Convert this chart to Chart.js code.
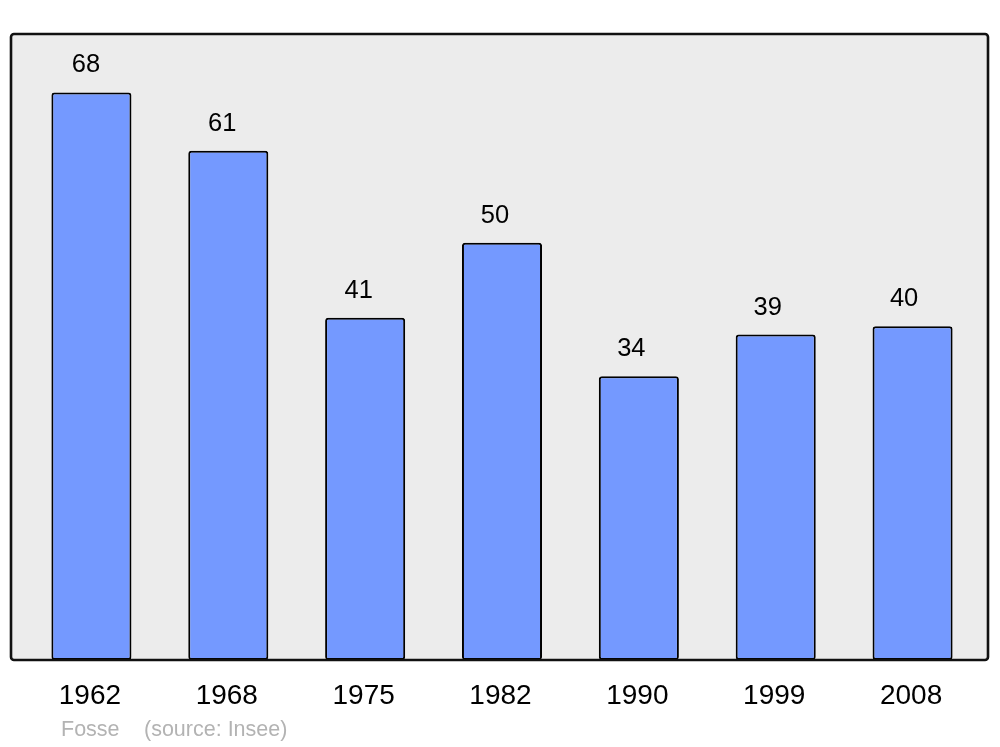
<!DOCTYPE html>
<html>
<head>
<meta charset="utf-8">
<title>Fosse - population</title>
<script src="https://cdn.jsdelivr.net/npm/chart.js@4/dist/chart.umd.min.js"></script>
<style>
    html, body { margin: 0; padding: 0; background: #ffffff; }
    #wrap { width: 1000px; height: 747px; }
</style>
</head>
<body>
<div id="wrap"><canvas id="chart" width="1000" height="747"></canvas></div>
<script>
// data
const years = ['1962', '1968', '1975', '1982', '1990', '1999', '2008'];
const population = [68, 61, 41, 50, 34, 39, 40];
const yMax = 75;

const FONT = '"Liberation Sans", Arial, sans-serif';

// grey panel with a dark frame, drawn behind/over the bars
const panel = {
    id: 'panel',
    beforeDatasetsDraw(chart) {
        const ctx = chart.ctx;
        ctx.save();
        ctx.fillStyle = '#ececec';
        ctx.beginPath();
        ctx.roundRect(11, 34, 977, 626, 3);
        ctx.fill();
        ctx.restore();
    },
    afterDatasetsDraw(chart) {
        const ctx = chart.ctx;
        ctx.save();
        ctx.strokeStyle = '#111111';
        ctx.lineWidth = 2.6;
        ctx.beginPath();
        ctx.roundRect(11, 34, 977, 626, 3);
        ctx.stroke();
        ctx.restore();
    }
};

// value above each bar, year under each bar, footer note
const labels = {
    id: 'labels',
    afterDraw(chart) {
        const ctx = chart.ctx;
        const meta = chart.getDatasetMeta(0);
        const x = chart.scales.x;
        ctx.save();
        ctx.textAlign = 'center';
        ctx.textBaseline = 'middle';
        ctx.fillStyle = '#000000';
        ctx.font = '25.5px ' + FONT;
        meta.data.forEach((bar, i) => {
            ctx.fillText(String(population[i]), bar.x - 5.5 - i * 0.5, bar.y - 27);
        });
        ctx.font = '28px ' + FONT;
        years.forEach((y, i) => {
            ctx.fillText(y, x.getPixelForTick(i) - 1.5, 696);
        });
        ctx.textAlign = 'left';
        ctx.fillStyle = '#b3b3b3';
        ctx.font = '21.5px ' + FONT;
        ctx.fillText('Fosse', 61, 730);
        ctx.fillText('(source: Insee)', 144, 730);
        ctx.restore();
    }
};

new Chart(document.getElementById('chart'), {
    type: 'bar',
    data: {
        labels: years,
        datasets: [{
            data: population,
            backgroundColor: '#7499ff',
            borderColor: '#000000',
            borderWidth: 2,
            borderRadius: 3,
            borderSkipped: false,
            categoryPercentage: 1,
            barPercentage: 0.585
        }]
    },
    options: {
        responsive: false,
        animation: false,
        layout: {
            padding: { left: 23, right: 19, top: 34, bottom: 87 }
        },
        plugins: {
            legend: { display: false },
            tooltip: { enabled: false }
        },
        scales: {
            x: { display: false },
            y: { display: false, min: 0, max: yMax }
        }
    },
    plugins: [panel, labels]
});
</script>
</body>
</html>
